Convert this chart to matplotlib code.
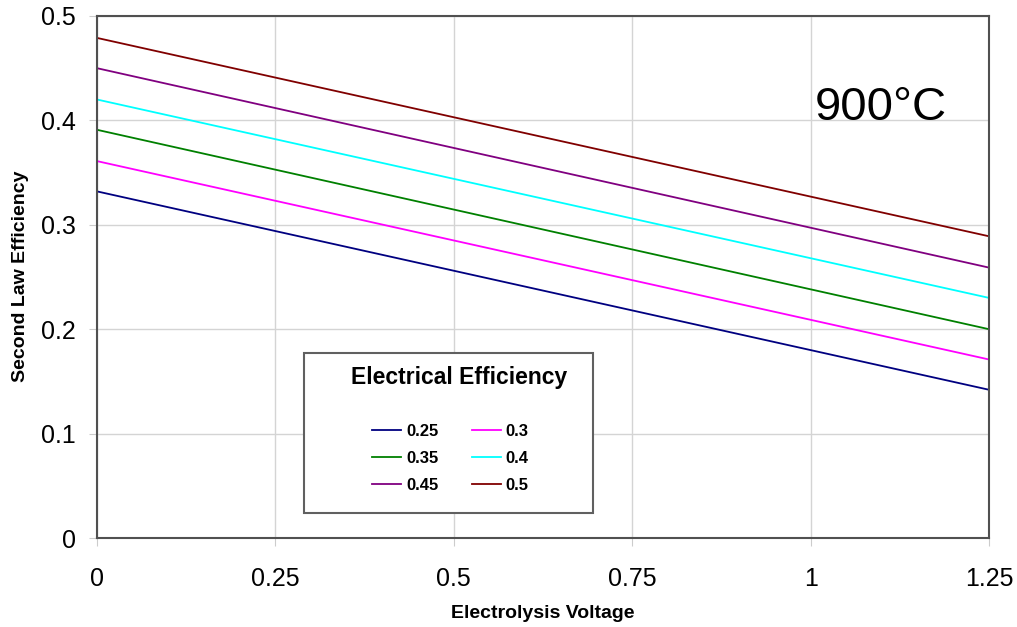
import matplotlib
matplotlib.use('Agg')
import matplotlib.pyplot as plt
from matplotlib.patches import Rectangle

plt.rcParams['font.family'] = ['Liberation Sans', 'DejaVu Sans']

# Datos (rectas)
voltage = [0, 1.25]
eff_025 = [0.332, 0.142]
eff_030 = [0.361, 0.171]
eff_035 = [0.391, 0.200]
eff_040 = [0.420, 0.230]
eff_045 = [0.450, 0.259]
eff_050 = [0.479, 0.289]

labels = ['0.25', '0.3', '0.35', '0.4', '0.45', '0.5']
colors = ['#000080', '#FF00FF', '#008000', '#00FFFF', '#800080', '#800000']
series = [eff_025, eff_030, eff_035, eff_040, eff_045, eff_050]

xticks = [0, 0.25, 0.5, 0.75, 1, 1.25]
xticklabels = ['0', '0.25', '0.5', '0.75', '1', '1.25']
yticks = [0, 0.1, 0.2, 0.3, 0.4, 0.5]
yticklabels = ['0', '0.1', '0.2', '0.3', '0.4', '0.5']

fig = plt.figure(figsize=(10.17, 6.27), dpi=100)
ax = fig.add_axes([0.0954, 0.1419, 0.8771, 0.8326])

lines = []
for vals, lab, col in zip(series, labels, colors):
    ln, = ax.plot(voltage, vals, color=col, lw=1.3, label=lab)
    lines.append(ln)

ax.set_xlim(0, 1.25)
ax.set_ylim(0, 0.5)
ax.set_xticks(xticks)
ax.set_xticklabels(xticklabels)
ax.set_yticks(yticks)
ax.set_yticklabels(yticklabels)
ax.grid(True, color='#d4d4d4', lw=1)
ax.set_axisbelow(True)
for s in ax.spines.values():
    s.set_color('#505050')
    s.set_linewidth(1.5)
ax.tick_params(axis='both', direction='out', length=6, color='#cccccc', labelsize=18)
ax.tick_params(axis='x', pad=15)
ax.tick_params(axis='y', pad=9)

fig.text(0.534, 0.022, 'Electrolysis Voltage', ha='center', va='center',
         fontsize=14, fontweight='bold')
fig.text(0.020, 0.559, 'Second Law Efficiency', ha='center', va='center',
         rotation=90, fontsize=14, fontweight='bold')

ax.text(1.006, 0.4, '900°C', fontsize=34, ha='left', va='baseline')

# Caja de leyenda
ax.add_patch(Rectangle((0.232, 0.048), 0.324, 0.306, transform=ax.transAxes,
                       facecolor='white', edgecolor='#606060', lw=1.5, zorder=5))
ax.text(0.406, 0.308, 'Electrical Efficiency', transform=ax.transAxes,
        ha='center', va='center', fontsize=16.5, fontweight='bold', zorder=6)
order = [0, 2, 4, 1, 3, 5]
leg = ax.legend([lines[i] for i in order], [labels[i] for i in order],
                ncol=2, frameon=False, loc='upper left',
                bbox_to_anchor=(0.308, 0.218), borderaxespad=0, borderpad=0,
                prop={'size': 12, 'weight': 'bold'}, handlelength=1.75,
                handletextpad=0.3, columnspacing=2.0, labelspacing=0.70)
leg.set_zorder(7)

fig.savefig('out.png', dpi=100)
